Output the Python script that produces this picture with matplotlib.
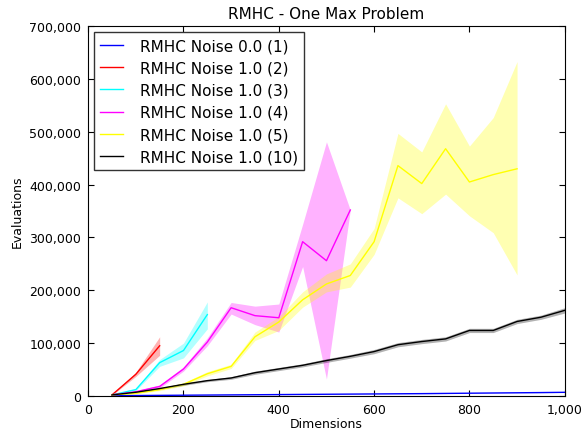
import matplotlib
matplotlib.use("Agg")
import matplotlib.pyplot as plt
from matplotlib.ticker import FuncFormatter, MultipleLocator

# ---- data ----
x1 = [50, 100, 150, 200, 250, 300, 350, 400, 450, 500, 550, 600, 650, 700, 750, 800, 850, 900, 950, 1000]
y1 = [500, 800, 1100, 1400, 1700, 2000, 2300, 2600, 2900, 3200, 3500, 3800, 4100, 4400, 4800, 5200, 5600, 6000, 6400, 6900]
lo1 = [400, 700, 1000, 1300, 1600, 1900, 2200, 2500, 2800, 3100, 3400, 3700, 4000, 4300, 4600, 5000, 5400, 5800, 6200, 6600]
hi1 = [600, 900, 1200, 1500, 1800, 2100, 2400, 2700, 3000, 3300, 3600, 3900, 4200, 4500, 5000, 5400, 5800, 6200, 6600, 7200]

x2 = [50, 100, 150]
y2 = [2000, 41000, 95000]
lo2 = [1500, 37000, 77000]
hi2 = [2500, 45000, 112000]

x3 = [50, 100, 150, 200, 250]
y3 = [2000, 12000, 63000, 86000, 154000]
lo3 = [1500, 10000, 56000, 72000, 127000]
hi3 = [2500, 14000, 69000, 100000, 178000]

x4 = [50, 100, 150, 200, 250, 300, 350, 400, 450, 500, 550]
y4 = [2000, 8000, 18000, 51000, 102000, 167000, 152000, 148000, 292000, 256000, 352000]
lo4 = [1500, 6500, 15000, 47000, 95000, 155000, 135000, 121000, 245000, 32000, 352000]
hi4 = [2500, 9500, 21000, 55000, 110000, 177000, 170000, 174000, 325000, 481000, 352000]

x5 = [50, 100, 150, 200, 250, 300, 350, 400, 450, 500, 550, 600, 650, 700, 750, 800, 850, 900]
y5 = [2000, 5000, 12000, 22000, 42000, 56000, 112000, 140000, 182000, 212000, 228000, 292000, 436000, 402000, 468000, 405000, 419000, 430000]
lo5 = [1500, 4000, 10000, 19000, 38000, 52000, 105000, 124000, 168000, 197000, 206000, 268000, 375000, 345000, 382000, 341000, 309000, 229000]
hi5 = [2500, 6000, 14000, 25000, 46000, 60000, 121000, 150000, 197000, 231000, 250000, 317000, 497000, 462000, 553000, 473000, 527000, 633000]

x10 = [50, 100, 150, 200, 250, 300, 350, 400, 450, 500, 550, 600, 650, 700, 750, 800, 850, 900, 950, 1000]
y10 = [2000, 7000, 14000, 22000, 29000, 34000, 44000, 51000, 58000, 67000, 75000, 84000, 97000, 103000, 108000, 124000, 124000, 141000, 149000, 162000]
lo10 = [1500, 6000, 12500, 20000, 27000, 31500, 41000, 48000, 55000, 63500, 71500, 80000, 93000, 99000, 104000, 120000, 120000, 137000, 145000, 157000]
hi10 = [2500, 8000, 15500, 24000, 31000, 36500, 47000, 54000, 61000, 70500, 78500, 88000, 101000, 107000, 112000, 128000, 128000, 145000, 153000, 167000]

labels = ["RMHC Noise 0.0 (1)", "RMHC Noise 1.0 (2)", "RMHC Noise 1.0 (3)",
          "RMHC Noise 1.0 (4)", "RMHC Noise 1.0 (5)", "RMHC Noise 1.0 (10)"]
colors = ["#0000ff", "#ff0000", "#00ffff", "#ff00ff", "#ffff00", "#000000"]

series = [(x1, y1, lo1, hi1), (x2, y2, lo2, hi2), (x3, y3, lo3, hi3),
          (x4, y4, lo4, hi4), (x5, y5, lo5, hi5), (x10, y10, lo10, hi10)]

fig = plt.figure(figsize=(5.84, 4.31), dpi=100, facecolor="white")
ax = fig.add_axes([0.151, 0.079, 0.816, 0.858])

for (x, y, lo, hi), c, lab in zip(series, colors, labels):
    ax.fill_between(x, lo, hi, color=c, alpha=0.3, linewidth=0)
    ax.plot(x, y, color=c, linewidth=1, label=lab)

ax.set_xlim(0, 1000)
ax.set_ylim(0, 700000)
ax.xaxis.set_major_locator(MultipleLocator(200))
ax.yaxis.set_major_locator(MultipleLocator(100000))
fmt = FuncFormatter(lambda v, p: f"{int(v):,}")
ax.xaxis.set_major_formatter(fmt)
ax.yaxis.set_major_formatter(fmt)
ax.tick_params(direction="in", top=True, right=True, labelsize=9, length=4, pad=5)
ax.set_title("RMHC - One Max Problem", fontsize=11)
ax.set_xlabel("Dimensions", fontsize=9, labelpad=1)
ax.set_ylabel("Evaluations", fontsize=9)

leg = ax.legend(loc="upper left", fontsize=11, fancybox=False, framealpha=1,
                edgecolor="#333333", borderaxespad=0.4, handlelength=1.5,
                handletextpad=1.1, labelspacing=0.47, borderpad=0.4)
leg.get_frame().set_linewidth(1)

fig.savefig("out.png", dpi=100, facecolor="white")
